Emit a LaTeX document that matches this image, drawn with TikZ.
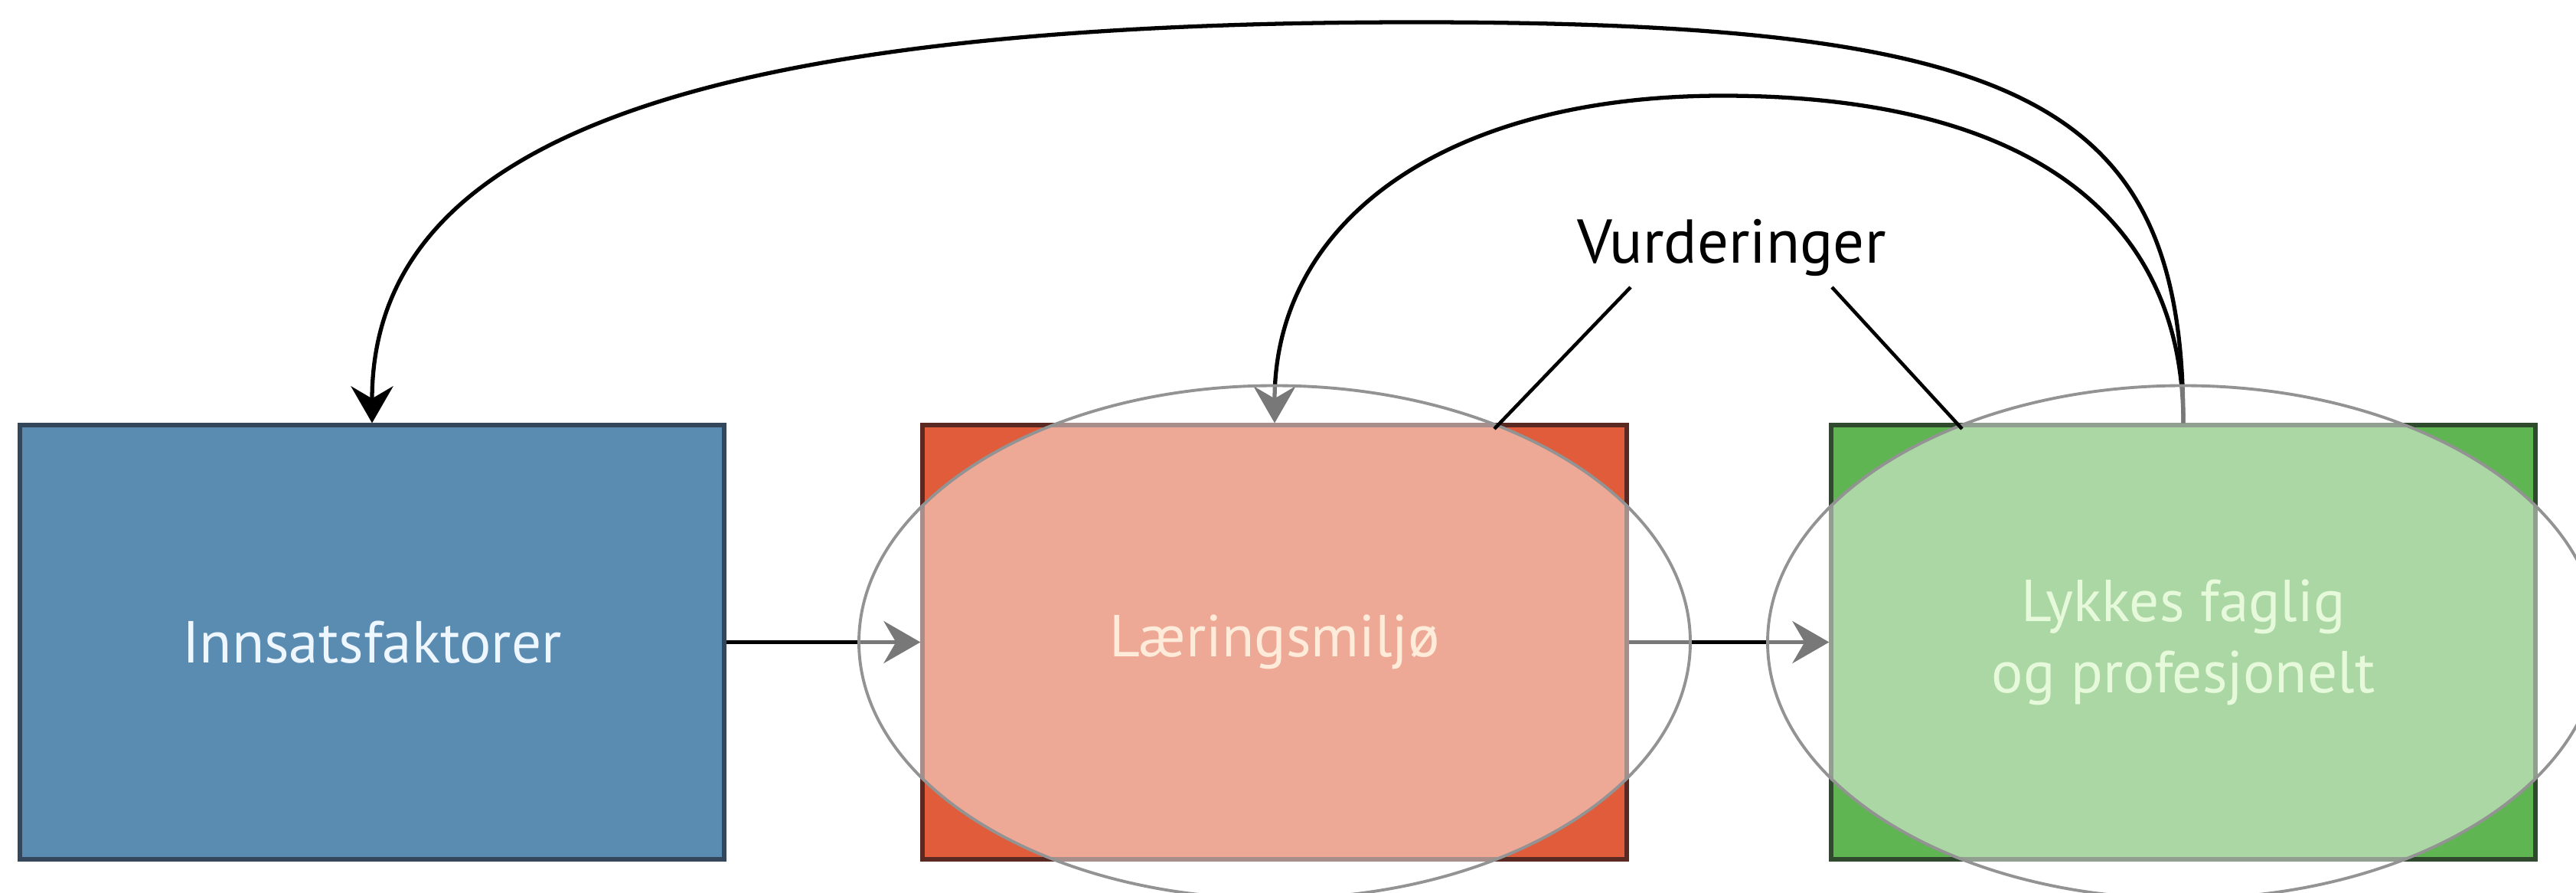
\documentclass[tikz,border=0pt]{standalone}
\usepackage{fontspec}
\setmainfont{PT Sans}
\usetikzlibrary{arrows.meta,shapes.geometric}
\definecolor{blaa}{HTML}{5A8BB0}
\definecolor{blaakant}{HTML}{34475A}
\definecolor{raud}{HTML}{E05C3A}
\definecolor{raudkant}{HTML}{5A2A22}
\definecolor{gron}{HTML}{60B553}
\definecolor{gronkant}{HTML}{2F4A2C}
\definecolor{ringgraa}{HTML}{939393}
\definecolor{kvit1}{HTML}{EEF6FF}
\definecolor{kvit2}{HTML}{FFEBD9}
\definecolor{kvit3}{HTML}{E6FADB}
\begin{document}
\begin{tikzpicture}[box/.style={draw,line width=1.5pt,minimum width=9.2cm,
	minimum height=5.67cm,inner sep=0pt},
	ring/.style={ellipse,draw=ringgraa,line width=1.1pt,fill=white,
	fill opacity=0.47,minimum width=10.86cm,minimum height=6.7cm,inner sep=0pt},
	tekst/.style={font=\fontsize{22}{26.5}\selectfont,align=center},
	pil/.style={-{Stealth[length=4.8mm,width=5.5mm,inset=1.6mm]},line width=1.5pt}]
      \useasboundingbox (0,0) rectangle (33.65,11.65);
      \node [box,fill=blaa,draw=blaakant] (b1) at (4.86,3.265)  {};
      \node [box,fill=raud,draw=raudkant] (b2) at (16.65,3.265) {};
      \node [box,fill=gron,draw=gronkant] (b3) at (28.52,3.265) {};

      \draw [pil] (b1.east) -- (b2.west);
      \draw [pil] (b2.east) -- (b3.west);
      % tilbakekobling
      \coordinate (topp1) at (18.50,11.36);
      \coordinate (topp2) at (22.50,10.40);
      \draw [pil] (b3.north) .. controls (28.52,10.31) and (26.50,11.36) .. (topp1)
        .. controls (8.97,11.36) and (4.86,9.785) .. (b1.north);
      \draw [pil] (b3.north) .. controls (28.52,8.90) and (26.40,10.40) .. (topp2)
        .. controls (18.88,10.40) and (16.65,8.77) .. (b2.north);

      \node [ring] (r2) at (b2) {};
      \node [ring] (r3) at (b3) {};

      \node [tekst,text=kvit1] (t1) at (b1) {Innsatsfaktorer};
      \node [tekst,text=kvit2] (t2) at (b2) {Læringsmiljø};
      \node [tekst,text=kvit3] (t3) at (b3) {Lykkes faglig\\og profesjonelt};

      \node [tekst,font=\fontsize{23}{27}\selectfont,anchor=base] (vurd) at (22.62,8.22) {Vurderinger};
      \coordinate (v1) at (21.30,7.90);
      \coordinate (v2) at (23.93,7.90);
      \coordinate (s2) at (19.52,6.05);
      \coordinate (s3) at (25.63,6.05);
      \draw [line width=1.3pt] (v1) -- (s2);
      \draw [line width=1.3pt] (v2) -- (s3);
    \end{tikzpicture}
\end{document}
